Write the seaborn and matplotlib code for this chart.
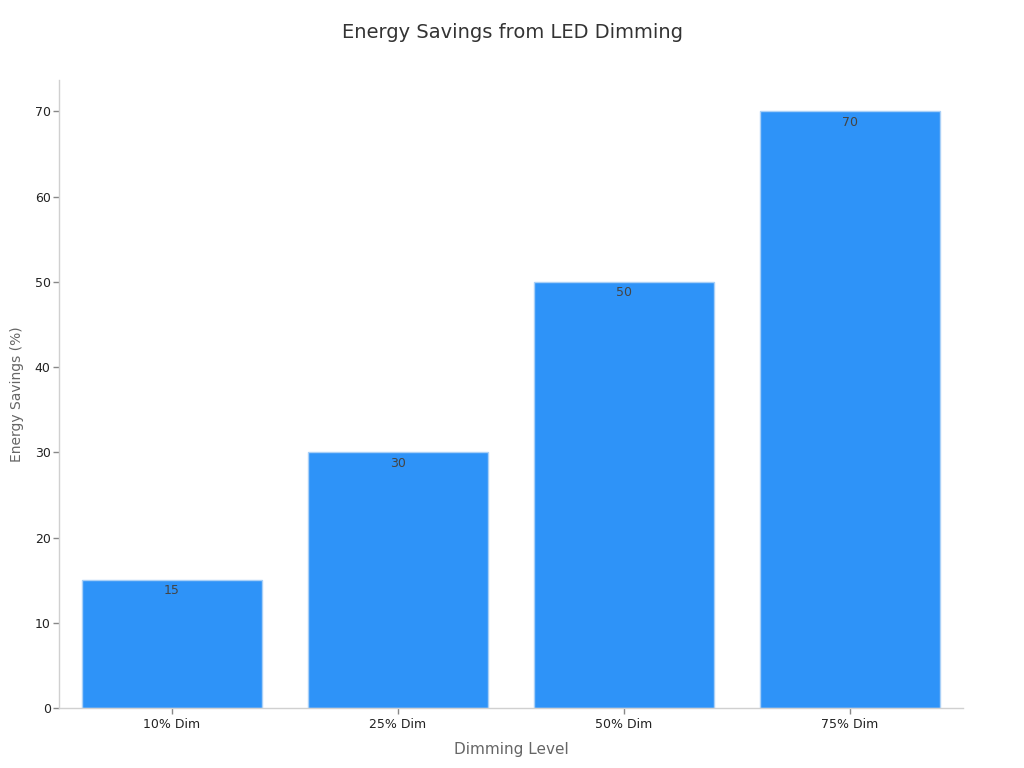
import matplotlib
matplotlib.use("Agg")
import matplotlib.pyplot as plt
import seaborn as sns
import pandas as pd

# chart data
levels = ["10% Dim", "25% Dim", "50% Dim", "75% Dim"]
savings = [15, 30, 50, 70]

df = pd.DataFrame({"Dimming Level": levels, "Energy Savings (%)": savings})

sns.set_style("white", {"xtick.bottom": True, "ytick.left": True})
plt.rcParams["font.family"] = ["DejaVu Sans"]

fig = plt.figure(figsize=(10.24, 7.68), dpi=100)
ax = fig.add_axes([0.0576, 0.078, 0.8828, 0.818])

sns.barplot(data=df, x="Dimming Level", y="Energy Savings (%)", ax=ax,
            color="#2E93F8", saturation=1, width=0.8,
            edgecolor="#a9d0f7", linewidth=1)

for p, v in zip(ax.patches, savings):
    ax.text(p.get_x() + p.get_width() / 2, v - 0.5, f"{v}",
            ha="center", va="top", fontsize=9, color="#444444")

ax.set_xlim(-0.5, 3.5)
ax.set_ylim(0, 73.7)
ax.set_yticks(range(0, 71, 10))

for s in ["top", "right"]:
    ax.spines[s].set_visible(False)
for s in ["left", "bottom"]:
    ax.spines[s].set_color("#d0d0d0")
    ax.spines[s].set_linewidth(1)

ax.tick_params(axis="both", labelsize=9, colors="#222222", length=4,
               width=1, color="#888888", pad=2)
ax.tick_params(axis="x", bottom=True, pad=3)
ax.tick_params(axis="y", left=True)

ax.set_xlabel("Dimming Level", fontsize=11, color="#666666", labelpad=8)
ax.set_ylabel("Energy Savings (%)", fontsize=10, color="#666666", labelpad=8)

fig.suptitle("Energy Savings from LED Dimming", fontsize=14, color="#333333",
             y=0.97)

fig.savefig("out.png", dpi=100)
